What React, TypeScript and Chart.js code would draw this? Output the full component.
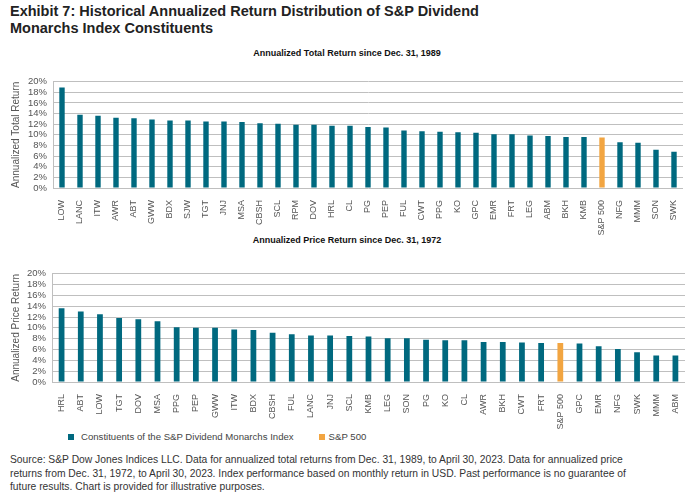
import React, { useEffect, useRef } from "react";
import { Chart, registerables } from "chart.js";

Chart.register(...registerables);

const totalLabels = ["LOW","LANC","ITW","AWR","ABT","GWW","BDX","SJW","TGT","JNJ","MSA","CBSH","SCL","RPM","DOV","HRL","CL","PG","PEP","FUL","CWT","PPG","KO","GPC","EMR","FRT","LEG","ABM","BKH","KMB","S&P 500","NFG","MMM","SON","SWK"];
const totalValues = [18.9,13.8,13.6,13.2,13.1,12.9,12.7,12.7,12.5,12.5,12.4,12.2,12.1,11.9,11.9,11.7,11.7,11.5,11.4,10.8,10.7,10.6,10.5,10.4,10.1,10.1,9.9,9.8,9.6,9.6,9.5,8.6,8.5,7.2,6.8];

const priceLabels = ["HRL","ABT","LOW","TGT","DOV","MSA","PPG","PEP","GWW","ITW","BDX","CBSH","FUL","LANC","JNJ","SCL","KMB","LEG","SON","PG","KO","CL","AWR","BKH","CWT","FRT","S&P 500","GPC","EMR","NFG","SWK","MMM","ABM"];
const priceValues = [13.6,13.0,12.5,11.8,11.6,11.2,10.1,10.0,10.0,9.7,9.6,9.1,8.8,8.6,8.6,8.5,8.4,8.1,8.1,7.8,7.7,7.7,7.4,7.4,7.3,7.2,7.2,7.1,6.6,6.1,5.5,4.9,4.9];

const yTicks = [0, 2, 4, 6, 8, 10, 12, 14, 16, 18, 20];

const TEAL = "#00697f";
const ORANGE = "#f2a541";
const GRID = "#bfbfbf";
const FONT = "'Liberation Sans', Arial, sans-serif";

function makeConfig(labels: string[], values: number[], yTitle: string, yWidth: number, xHeight: number, padTop: number, padRight: number): any {
  return {
    type: "bar",
    data: {
      labels,
      datasets: [
        {
          data: values,
          backgroundColor: labels.map((l) => (l === "S&P 500" ? ORANGE : TEAL)),
          barPercentage: 0.3,
          categoryPercentage: 1,
        },
      ],
    },
    options: {
      responsive: false,
      animation: false,
      devicePixelRatio: 1,
      layout: { padding: { top: padTop, right: padRight, left: 0, bottom: 0 } },
      plugins: { legend: { display: false }, tooltip: { enabled: false }, title: { display: false } },
      scales: {
        x: {
          grid: { display: false },
          border: { display: false },
          ticks: {
            minRotation: 90,
            maxRotation: 90,
            autoSkip: false,
            padding: 4,
            color: "#555",
            font: { family: FONT, size: 9 },
          },
          afterFit: (s: any) => { s.height = xHeight; },
        },
        y: {
          min: yTicks[0],
          max: yTicks[yTicks.length - 1],
          afterBuildTicks: (s: any) => { s.ticks = yTicks.map((v) => ({ value: v })); },
          grid: { color: GRID, lineWidth: 1, drawTicks: false },
          border: { display: true, color: GRID, width: 1 },
          ticks: {
            autoSkip: false,
            padding: 6,
            color: "#555",
            font: { family: FONT, size: 9.5 },
            callback: (v: any) => v + "%",
          },
          title: {
            display: true,
            text: yTitle,
            color: "#555",
            font: { family: FONT, size: 10 },
            padding: { top: 10, bottom: 0 },
          },
          afterFit: (s: any) => { s.width = yWidth; },
        },
      },
    },
  };
}

function BarChart(props: { labels: string[]; values: number[]; yTitle: string; top: number; height: number; yWidth: number; xHeight: number; padTop: number; padRight: number }) {
  const ref = useRef<HTMLCanvasElement | null>(null);
  useEffect(() => {
    if (!ref.current) return;
    const chart = new Chart(ref.current, makeConfig(props.labels, props.values, props.yTitle, props.yWidth, props.xHeight, props.padTop, props.padRight));
    return () => chart.destroy();
  }, []);
  return (
    <canvas
      ref={ref}
      width={694}
      height={props.height}
      style={{ position: "absolute", left: 0, top: props.top, width: 694, height: props.height }}
    />
  );
}

export default function App() {
  const subTitle: React.CSSProperties = {
    position: "absolute",
    left: 0,
    width: 694,
    textAlign: "center",
    fontFamily: FONT,
    fontWeight: "bold",
    fontSize: 9,
    color: "#111",
    whiteSpace: "nowrap",
  };
  return (
    <div style={{ position: "absolute", left: 0, top: 0, width: 694, height: 495, background: "#fff", overflow: "hidden", fontFamily: FONT }}>
      <div style={{ position: "absolute", left: 10, top: 3, fontWeight: "bold", fontSize: 14.5, lineHeight: "17px", color: "#222", whiteSpace: "nowrap" }}>
        Exhibit 7: Historical Annualized Return Distribution of S&amp;P Dividend
        <br />
        Monarchs Index Constituents
      </div>
      <div style={{ ...subTitle, top: 48 }}>Annualized Total Return since Dec. 31, 1989</div>
      <BarChart labels={totalLabels} values={totalValues} yTitle="Annualized Total Return" top={70} height={165} yWidth={53} xHeight={47} padTop={5} padRight={11} />
      <div style={{ ...subTitle, top: 235 }}>Annualized Price Return since Dec. 31, 1972</div>
      <BarChart labels={priceLabels} values={priceValues} yTitle="Annualized Price Return" top={262} height={168} yWidth={52} xHeight={48} padTop={8} padRight={9} />
      <div style={{ position: "absolute", left: 68, top: 431, fontSize: 9.6, lineHeight: "12px", color: "#444", display: "flex", alignItems: "center", whiteSpace: "nowrap" }}>
        <span style={{ display: "inline-block", width: 6, height: 6, background: TEAL, marginRight: 7 }} />
        <span>Constituents of the S&amp;P Dividend Monarchs Index</span>
        <span style={{ display: "inline-block", width: 6, height: 6, background: ORANGE, marginLeft: 25, marginRight: 4 }} />
        <span>S&amp;P 500</span>
      </div>
      <div style={{ position: "absolute", left: 10, top: 453, width: 684, fontSize: 10.3, lineHeight: "13.5px", color: "#333", whiteSpace: "nowrap" }}>
        Source: S&amp;P Dow Jones Indices LLC. Data for annualized total returns from Dec. 31, 1989, to April 30, 2023. Data for annualized price
        <br />
        returns from Dec. 31, 1972, to April 30, 2023. Index performance based on monthly return in USD. Past performance is no guarantee of
        <br />
        future results. Chart is provided for illustrative purposes.
      </div>
    </div>
  );
}
